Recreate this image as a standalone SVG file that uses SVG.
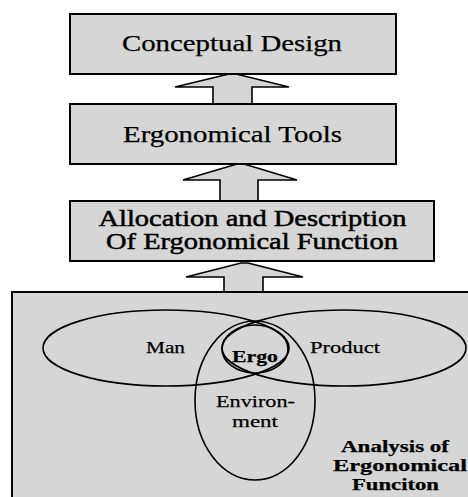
<svg xmlns="http://www.w3.org/2000/svg" width="468" height="497" viewBox="0 0 468 497">
  <style>
    .box { fill: #d6d6d6; stroke: #000; stroke-width: 2; }
    .arrow { fill: #d6d6d6; stroke: #000; stroke-width: 1.6; stroke-linejoin: miter; }
    .set { fill: none; stroke: #000; stroke-width: 1.6; }
    .big { font-size: 23px; }
    .mid { font-size: 17.5px; }
    .b { font-weight: bold; }
  </style>
  <rect width="468" height="497" fill="#fff"/>

  <!-- upward block arrows between the stages -->
  <g id="connectors">
    <polygon class="arrow" points="213,104 213,87 175,87 229,74 236,74 289,87 252,87 252,104"/>
    <polygon class="arrow" points="220,201 220,180 183,180 237,164 244,164 297,180 258,180 258,201"/>
    <polygon class="arrow" points="224,292 224,277 186,277 241,263 248,263 303,277 263,277 263,292"/>
  </g>

  <g font-family="Liberation Serif, Times New Roman, DejaVu Serif, serif" fill="#000" stroke="#000" stroke-width="0.25">
    <g id="conceptual-design">
      <rect class="box" x="70" y="14" width="326" height="60"/>
      <text class="big" x="122" y="51" textLength="220" lengthAdjust="spacingAndGlyphs">Conceptual Design</text>
    </g>

    <g id="ergonomical-tools">
      <rect class="box" x="70" y="104" width="326" height="60"/>
      <text class="big" x="123" y="141.5" textLength="219" lengthAdjust="spacingAndGlyphs">Ergonomical Tools</text>
    </g>

    <g id="allocation">
      <rect class="box" x="70" y="201" width="364" height="60"/>
      <text class="big" x="98.5" y="225.5" textLength="308" lengthAdjust="spacingAndGlyphs" stroke-width="0.5">Allocation and Description</text>
      <text class="big" x="106" y="248.5" textLength="292" lengthAdjust="spacingAndGlyphs" stroke-width="0.5">Of Ergonomical Function</text>
    </g>

    <g id="analysis">
      <rect class="box" x="12" y="292" width="472" height="220"/>
      <ellipse class="set" cx="166" cy="348" rx="123" ry="38"/>
      <ellipse class="set" cx="344" cy="348" rx="122" ry="38"/>
      <ellipse class="set" cx="255" cy="400.5" rx="60" ry="79.5"/>
      <ellipse class="set" cx="255" cy="349" rx="33" ry="24"/>
      <text class="mid" x="146" y="353" textLength="39" lengthAdjust="spacingAndGlyphs">Man</text>
      <text class="mid" x="310" y="353" textLength="70" lengthAdjust="spacingAndGlyphs">Product</text>
      <text class="mid b" x="232" y="361.5" textLength="46" lengthAdjust="spacingAndGlyphs">Ergo</text>
      <text class="mid" x="216" y="406.5" textLength="79" lengthAdjust="spacingAndGlyphs">Environ-</text>
      <text class="mid" x="232" y="426.5" textLength="46" lengthAdjust="spacingAndGlyphs">ment</text>
      <text class="mid b" x="341" y="452" textLength="108" lengthAdjust="spacingAndGlyphs">Analysis of</text>
      <text class="mid b" x="333" y="471" textLength="134" lengthAdjust="spacingAndGlyphs">Ergonomical</text>
      <text class="mid b" x="352" y="490" textLength="87" lengthAdjust="spacingAndGlyphs">Funciton</text>
    </g>
  </g>
</svg>
